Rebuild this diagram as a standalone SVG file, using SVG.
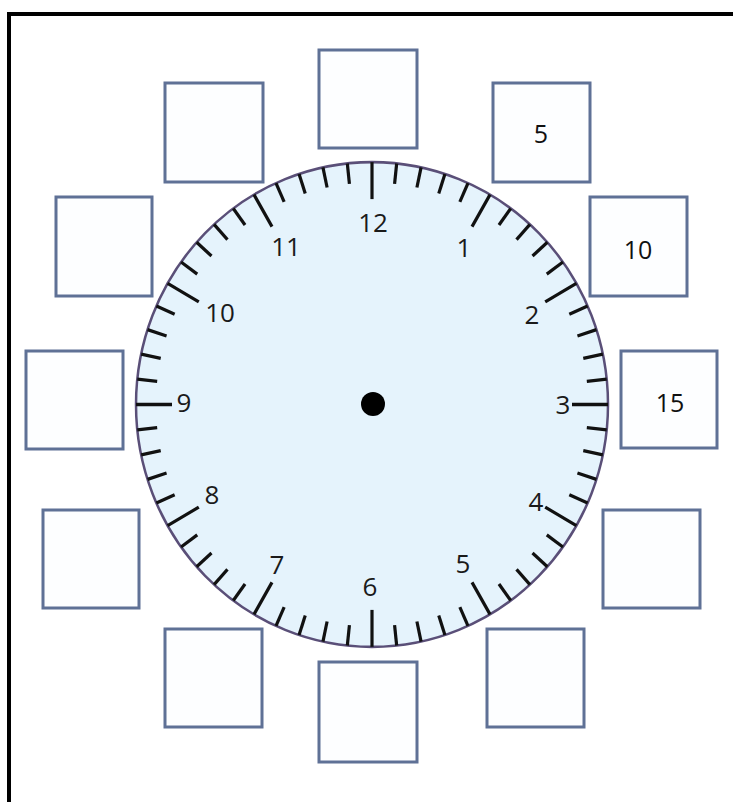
<svg xmlns="http://www.w3.org/2000/svg" xmlns:xlink="http://www.w3.org/1999/xlink" width="733" height="802" viewBox="0 0 733 802">
<style>
.box{fill:#fdfeff;stroke:#5f7196;stroke-width:3}
.num{font-family:"Open Sans","Liberation Sans",sans-serif;font-size:26px;fill:#1a1a1a;text-anchor:middle;dominant-baseline:central}
.bnum{font-family:"Open Sans","Liberation Sans",sans-serif;font-size:25px;fill:#111;text-anchor:middle;dominant-baseline:central}
.tick{stroke:#111;stroke-width:3.2;stroke-linecap:butt}
</style>
<defs>
<line id="mj" class="tick" x1="0" y1="-236" x2="0" y2="-200"/>
<line id="mn" class="tick" x1="0" y1="-236" x2="0" y2="-216"/>
</defs>
<rect width="733" height="802" fill="#fff"/>
<g id="frame">
<line x1="9" y1="12" x2="9" y2="802" stroke="#000" stroke-width="4"/>
<line x1="7" y1="14" x2="733" y2="14" stroke="#000" stroke-width="4"/>
</g>
<g id="boxes">
<g id="box12"><rect class="box" x="319" y="50" width="98" height="98"/></g>
<g id="box1"><rect class="box" x="493" y="83" width="97" height="99"/><text class="bnum" x="541" y="133">5</text></g>
<g id="box2"><rect class="box" x="590" y="197" width="97" height="99"/><text class="bnum" x="638" y="249">10</text></g>
<g id="box3"><rect class="box" x="621" y="351" width="96" height="97"/><text class="bnum" x="670" y="402">15</text></g>
<g id="box4"><rect class="box" x="603" y="510" width="97" height="98"/></g>
<g id="box5"><rect class="box" x="487" y="629" width="97" height="98"/></g>
<g id="box6"><rect class="box" x="319" y="662" width="98" height="100"/></g>
<g id="box7"><rect class="box" x="165" y="629" width="97" height="98"/></g>
<g id="box8"><rect class="box" x="43" y="510" width="96" height="98"/></g>
<g id="box9"><rect class="box" x="26" y="351" width="97" height="98"/></g>
<g id="box10"><rect class="box" x="56" y="197" width="96" height="99"/></g>
<g id="box11"><rect class="box" x="165" y="83" width="98" height="99"/></g>
</g>
<g id="clock">
<g transform="translate(372,404.5) scale(1,1.027)">
<circle r="236" fill="#e5f3fc" stroke="#5a4f78" stroke-width="2.5"/>
<use xlink:href="#mj" transform="rotate(0)"/><use xlink:href="#mn" transform="rotate(6)"/><use xlink:href="#mn" transform="rotate(12)"/><use xlink:href="#mn" transform="rotate(18)"/><use xlink:href="#mn" transform="rotate(24)"/>
<use xlink:href="#mj" transform="rotate(30)"/><use xlink:href="#mn" transform="rotate(36)"/><use xlink:href="#mn" transform="rotate(42)"/><use xlink:href="#mn" transform="rotate(48)"/><use xlink:href="#mn" transform="rotate(54)"/>
<use xlink:href="#mj" transform="rotate(60)"/><use xlink:href="#mn" transform="rotate(66)"/><use xlink:href="#mn" transform="rotate(72)"/><use xlink:href="#mn" transform="rotate(78)"/><use xlink:href="#mn" transform="rotate(84)"/>
<use xlink:href="#mj" transform="rotate(90)"/><use xlink:href="#mn" transform="rotate(96)"/><use xlink:href="#mn" transform="rotate(102)"/><use xlink:href="#mn" transform="rotate(108)"/><use xlink:href="#mn" transform="rotate(114)"/>
<use xlink:href="#mj" transform="rotate(120)"/><use xlink:href="#mn" transform="rotate(126)"/><use xlink:href="#mn" transform="rotate(132)"/><use xlink:href="#mn" transform="rotate(138)"/><use xlink:href="#mn" transform="rotate(144)"/>
<use xlink:href="#mj" transform="rotate(150)"/><use xlink:href="#mn" transform="rotate(156)"/><use xlink:href="#mn" transform="rotate(162)"/><use xlink:href="#mn" transform="rotate(168)"/><use xlink:href="#mn" transform="rotate(174)"/>
<use xlink:href="#mj" transform="rotate(180)"/><use xlink:href="#mn" transform="rotate(186)"/><use xlink:href="#mn" transform="rotate(192)"/><use xlink:href="#mn" transform="rotate(198)"/><use xlink:href="#mn" transform="rotate(204)"/>
<use xlink:href="#mj" transform="rotate(210)"/><use xlink:href="#mn" transform="rotate(216)"/><use xlink:href="#mn" transform="rotate(222)"/><use xlink:href="#mn" transform="rotate(228)"/><use xlink:href="#mn" transform="rotate(234)"/>
<use xlink:href="#mj" transform="rotate(240)"/><use xlink:href="#mn" transform="rotate(246)"/><use xlink:href="#mn" transform="rotate(252)"/><use xlink:href="#mn" transform="rotate(258)"/><use xlink:href="#mn" transform="rotate(264)"/>
<use xlink:href="#mj" transform="rotate(270)"/><use xlink:href="#mn" transform="rotate(276)"/><use xlink:href="#mn" transform="rotate(282)"/><use xlink:href="#mn" transform="rotate(288)"/><use xlink:href="#mn" transform="rotate(294)"/>
<use xlink:href="#mj" transform="rotate(300)"/><use xlink:href="#mn" transform="rotate(306)"/><use xlink:href="#mn" transform="rotate(312)"/><use xlink:href="#mn" transform="rotate(318)"/><use xlink:href="#mn" transform="rotate(324)"/>
<use xlink:href="#mj" transform="rotate(330)"/><use xlink:href="#mn" transform="rotate(336)"/><use xlink:href="#mn" transform="rotate(342)"/><use xlink:href="#mn" transform="rotate(348)"/><use xlink:href="#mn" transform="rotate(354)"/>
</g>
<circle cx="373" cy="404" r="12" fill="#000"/>
<text class="num" x="373" y="222">12</text>
<text class="num" x="464" y="247">1</text>
<text class="num" x="532" y="314">2</text>
<text class="num" x="563" y="404">3</text>
<text class="num" x="536" y="501">4</text>
<text class="num" x="463" y="563">5</text>
<text class="num" x="370" y="586">6</text>
<text class="num" x="277" y="564">7</text>
<text class="num" x="212" y="494">8</text>
<text class="num" x="184" y="402">9</text>
<text class="num" x="220" y="312">10</text>
<text class="num" x="286" y="246">11</text>
</g>
</svg>
